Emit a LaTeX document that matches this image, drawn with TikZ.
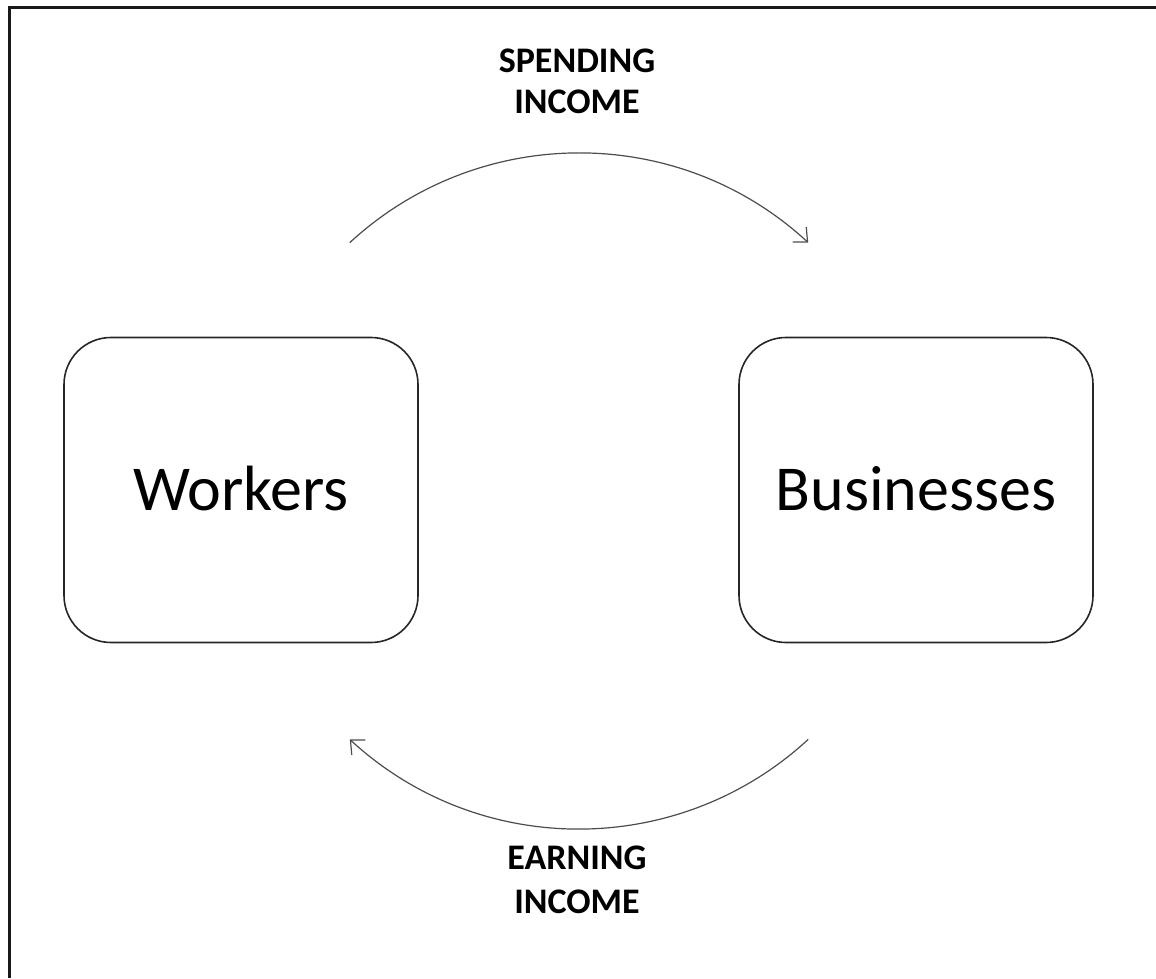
\documentclass[tikz,border=0pt]{standalone}
\usepackage{fontspec}
\setmainfont{Carlito}
\usetikzlibrary{arrows.meta}
\begin{document}
\begin{tikzpicture}[x=1pt,y=1pt,
  agent/.style={draw=black!85, line width=1.6pt, rounded corners=47pt, rectangle,
    minimum width=354pt, minimum height=305pt, inner sep=0pt,
    text height=41pt, text depth=0pt,
    font=\fontsize{64}{76}\selectfont},
  flow/.style={draw=black!70, line width=1.2pt, -{Straight Barb[length=11pt,width=20pt,line width=1.2pt]}},
  flowlabel/.style={font=\fontsize{36}{43}\selectfont\bfseries, anchor=base},
  frame/.style={draw=black!90, line width=3pt}]
\useasboundingbox (0,0) rectangle (1156,978);
% frame (top and left edges visible)
\coordinate (fl) at (9.5,0);
\coordinate (ftl) at (9.5,970.5);
\coordinate (ftr) at (1160,970.5);
\draw[frame] (fl) -- (ftl) -- (ftr);
% nodes
\node[agent] (workers) at (241,488) {Workers};
\node[agent] (business) at (916,488) {Businesses};
% circle centre for flows
\coordinate (c) at (579,487);
\path (c) ++(132.7:338) coordinate (ts);
\path (c) ++(-47.3:338) coordinate (bs);
\draw[flow] (ts) arc[start angle=132.7, end angle=47.3, radius=338];
\draw[flow] (bs) arc[start angle=-47.3, end angle=-132.7, radius=338];
% labels
\node[flowlabel] (sp1) at (577,905) {SPENDING};
\node[flowlabel] (sp2) at (577,864) {INCOME};
\node[flowlabel] (ea1) at (577,109) {EARNING};
\node[flowlabel] (ea2) at (577,65) {INCOME};
\end{tikzpicture}
\end{document}
